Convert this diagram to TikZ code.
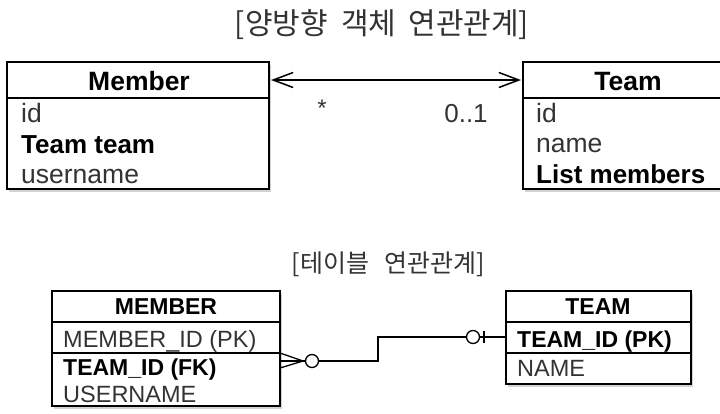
\documentclass[tikz,border=0pt]{standalone}
\usepackage{fontspec}
\setmainfont{Liberation Sans}
\newfontfamily\kor{Noto Sans CJK KR}
\usetikzlibrary{arrows.meta,shadows}
\definecolor{txtgray}{HTML}{333333}
\begin{document}
\begin{tikzpicture}[x=1pt,y=-1pt,
  boxline/.style={line width=1.6pt,draw=black},
  ent/.style={boxline,fill=white,drop shadow={shadow xshift=1.5pt,shadow yshift=-2.5pt,opacity=0.35}},
  divider/.style={line width=1.4pt},
  rowtxt/.style={anchor=base west,inner sep=0pt,text=txtgray,font=\fontsize{26.5}{28}\selectfont},
  rowbold/.style={anchor=base west,inner sep=0pt,text=black,font=\fontsize{26}{28}\selectfont\bfseries},
  hdr/.style={anchor=base,inner sep=0pt,text=black,font=\fontsize{26.5}{28}\selectfont\bfseries},
  trow/.style={anchor=base west,inner sep=0pt,text=txtgray,font=\fontsize{23.5}{25}\selectfont},
  tbold/.style={anchor=base west,inner sep=0pt,text=black,font=\fontsize{23}{25}\selectfont\bfseries},
  thdr/.style={anchor=base,inner sep=0pt,text=black,font=\fontsize{23}{25}\selectfont\bfseries},
  conn/.style={line width=1.5pt,draw=black},
  erline/.style={line width=1.3pt,draw=black},
  title/.style={inner sep=0pt,text=txtgray}]
\useasboundingbox (0,0) rectangle (720,413);
\clip (0,0) rectangle (720,413);
\fill[white] (0,0) rectangle (720,413);

% titles
\node[title,font=\kor\fontsize{30}{32}\selectfont] (t1) at (382,25) {[양방향\hspace{0.45em}객체\hspace{0.4em}연관관계]};
\node[title,font=\kor\fontsize{25}{27}\selectfont] (t2) at (388,264) {[테이블\hspace{0.6em}연관관계]};

% Member class
\path[ent] (7,62) rectangle (269,189);
\draw[divider] (7,98) -- (269,98);
\node[hdr] (mh) at (139,90) {Member};
\node[rowtxt] (m1) at (21,122) {id};
\node[rowbold] (m2) at (21,153) {Team team};
\node[rowtxt] (m3) at (21,183) {username};

% Team class
\path[ent] (523,62) rectangle (740,189);
\draw[divider] (523,98) -- (740,98);
\node[hdr] (th) at (628,90) {Team};
\node[rowtxt] (tc1) at (536,122) {id};
\node[rowtxt] (tc2) at (536,152) {name};
\node[rowbold] (tc3) at (536,183) {List members};

% association
\coordinate (aL) at (271,80);
\coordinate (aR) at (521,80);
\draw[conn,{Straight Barb[length=20pt,width=15pt,line width=1.5pt]}-{Straight Barb[length=20pt,width=15pt,line width=1.5pt]}] (aL) -- (aR);
\node[inner sep=0pt,text=txtgray,font=\fontsize{24}{26}\selectfont] (star) at (322,108) {*};
\node[anchor=base,inner sep=0pt,text=txtgray,font=\fontsize{26}{28}\selectfont] (mult) at (466,122) {0..1};

% MEMBER table
\path[ent] (52,291) rectangle (280,406);
\draw[divider] (52,322) -- (280,322);
\draw[divider] (52,353) -- (280,353);
\node[thdr] (MH) at (166,314) {MEMBER};
\node[trow] (M1) at (63,347) {MEMBER\_ID (PK)};
\node[tbold] (M2) at (63,375) {TEAM\_ID (FK)};
\node[trow] (M3) at (63,402) {USERNAME};

% TEAM table
\path[ent] (506,291) rectangle (691,384);
\draw[divider] (506,322) -- (691,322);
\draw[divider] (506,353) -- (691,353);
\node[thdr] (TH) at (598,314) {TEAM};
\node[tbold] (T1) at (517,347) {TEAM\_ID (PK)};
\node[trow] (T2) at (517,376) {NAME};

% relationship
\coordinate (cfA) at (280,353);
\coordinate (cfB) at (280,361);
\coordinate (cfC) at (280,368);
\coordinate (cfT) at (303,361);
\node[circle,draw,erline,fill=white,minimum size=13pt,inner sep=0pt] (c1) at (312,361) {};
\coordinate (elb1) at (378,361);
\coordinate (elb2) at (378,337);
\node[circle,draw,erline,fill=white,minimum size=13pt,inner sep=0pt] (c2) at (473,337) {};
\coordinate (bar) at (484,337);
\coordinate (tend) at (506,337);
\draw[erline] (cfA) -- (cfT) -- (cfC);
\draw[erline] (cfB) -- (c1.west);
\draw[erline] (c1.east) -- (elb1) -- (elb2) -- (c2.west);
\draw[erline] (c2.east) -- (tend);
\draw[erline] ([yshift=-6pt]bar) -- ([yshift=6pt]bar);
\end{tikzpicture}
\end{document}
